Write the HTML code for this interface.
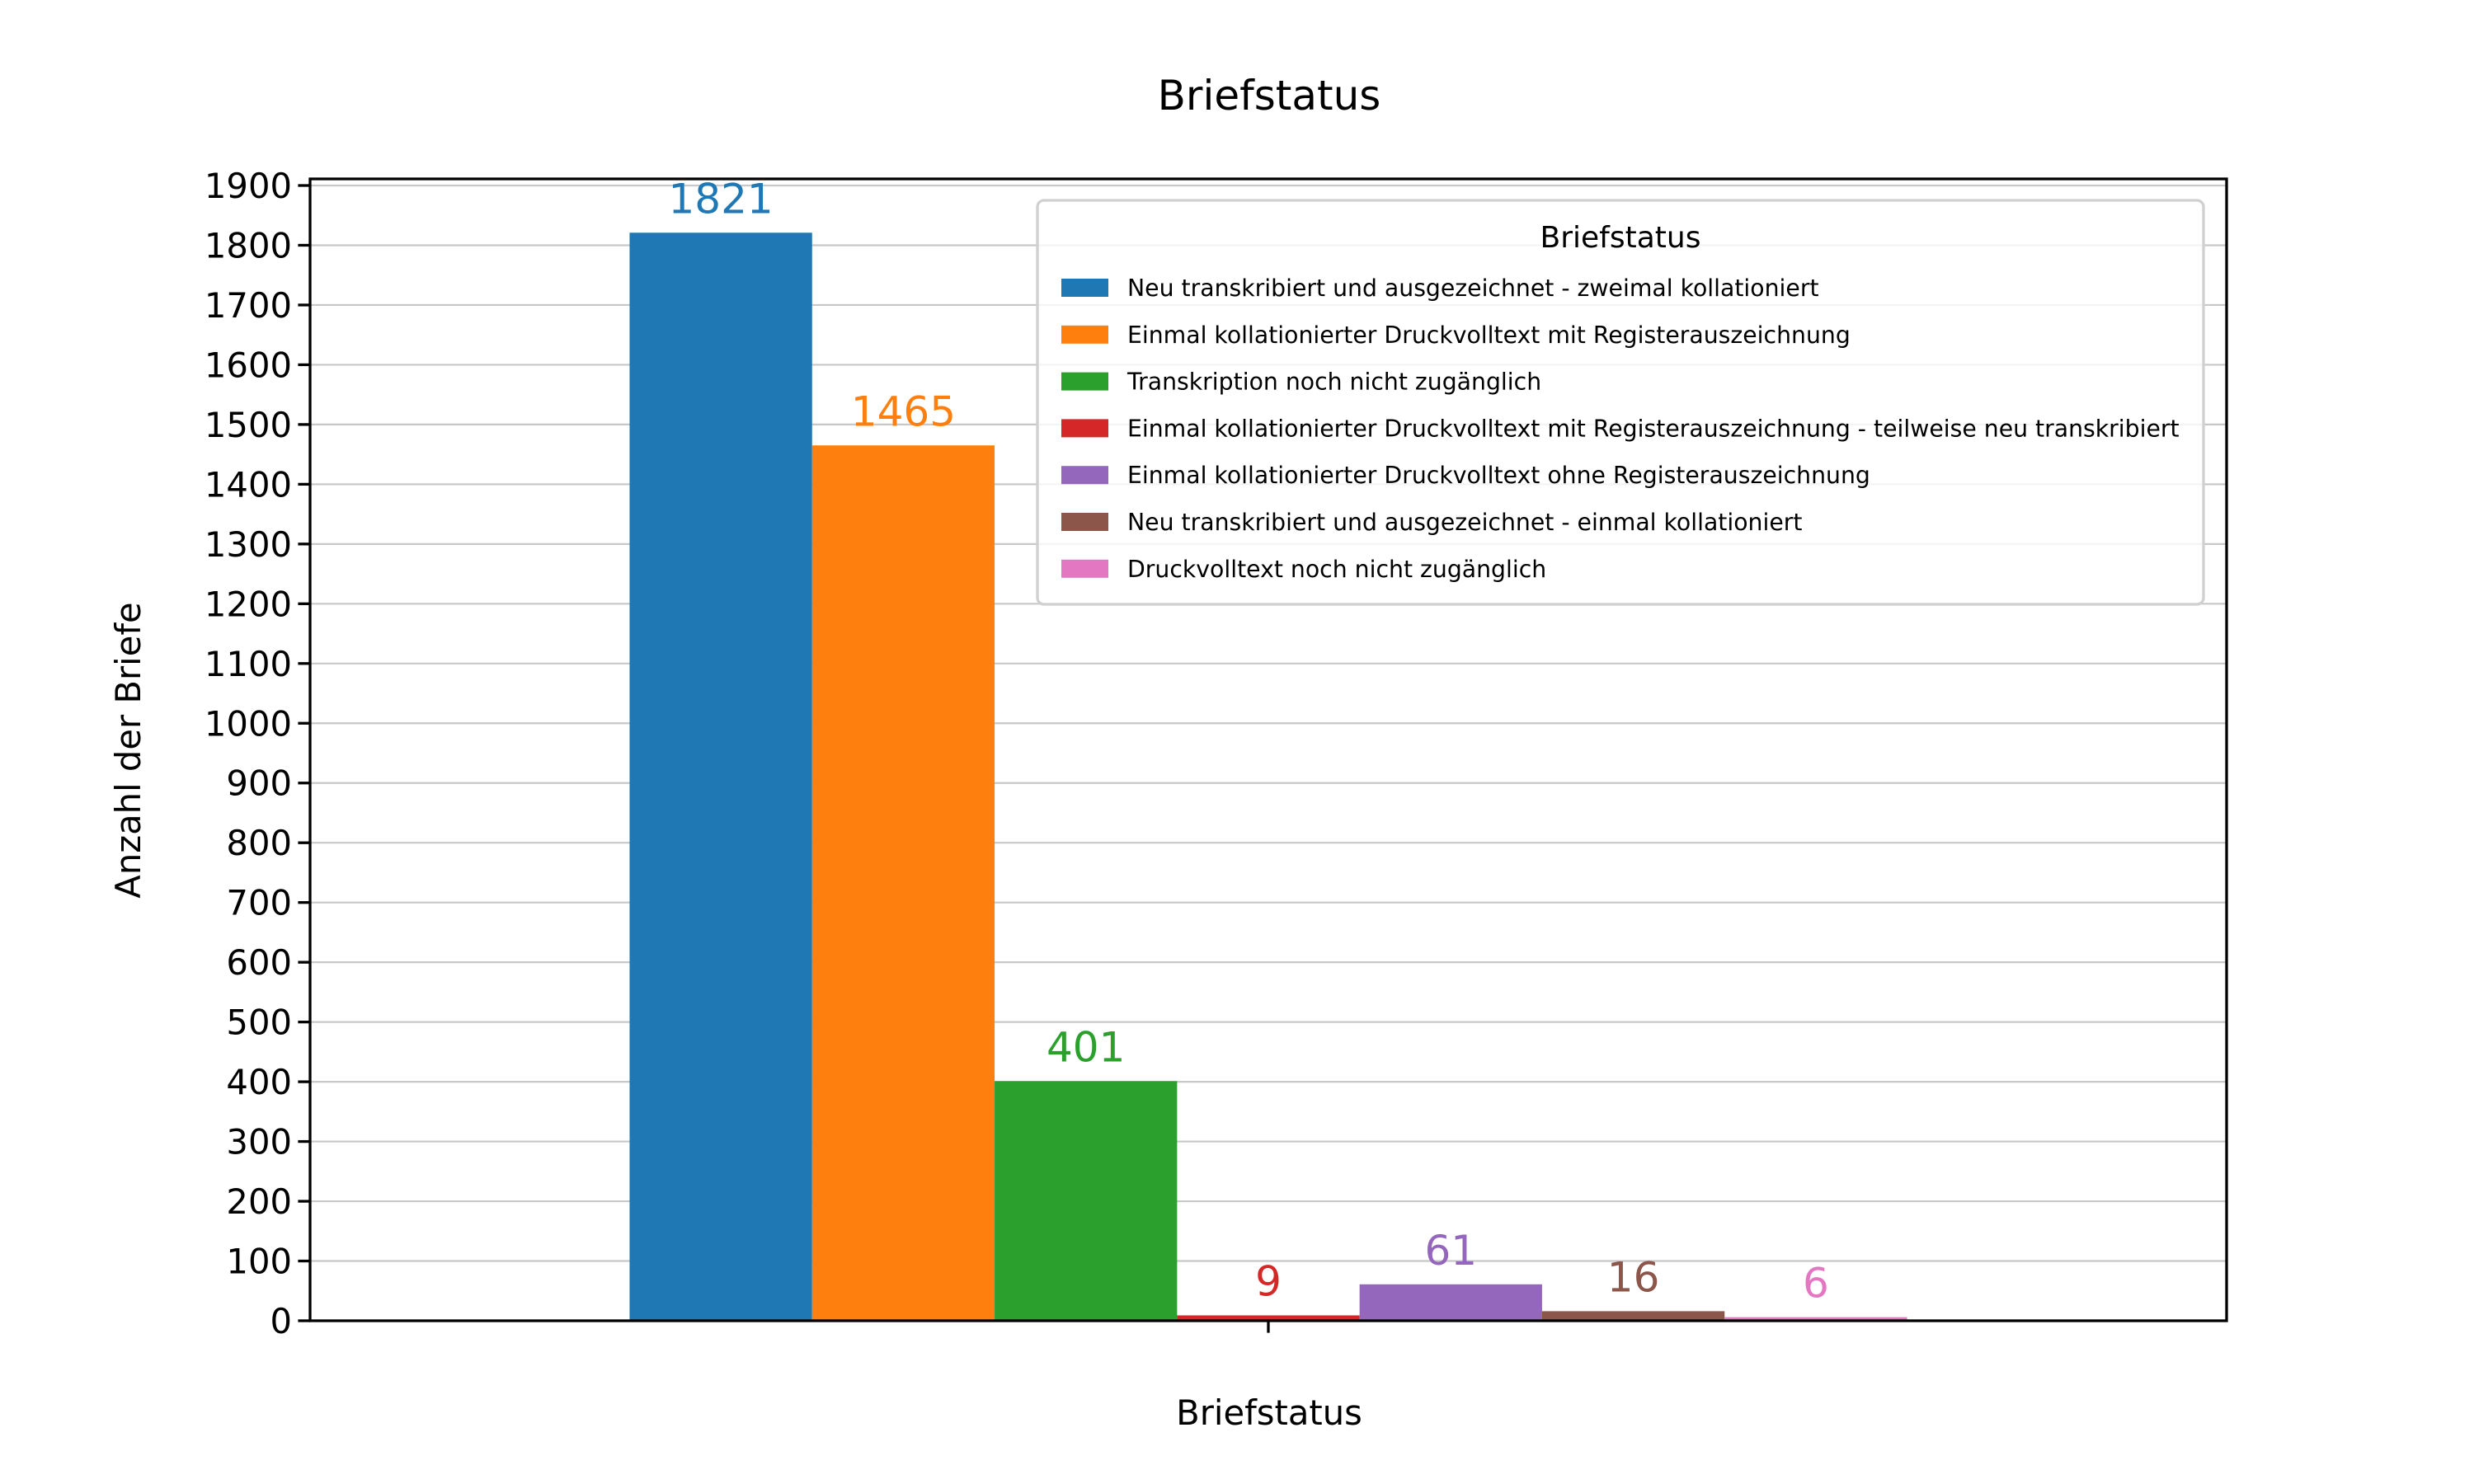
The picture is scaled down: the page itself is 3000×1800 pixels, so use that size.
<!DOCTYPE html>
<html><head><meta charset="utf-8"><style>
html,body{margin:0;padding:0;background:#fff;}
svg{display:block;font-family:"DejaVu Sans","Liberation Sans",sans-serif;}
</style></head><body>
<svg id="chart" width="3000" height="1800" viewBox="0 0 3000 1800" xmlns="http://www.w3.org/2000/svg">
<rect x="0" y="0" width="3000" height="1800" fill="#fff"/>
<text x="1539" y="133" font-size="50" text-anchor="middle" fill="#000">Briefstatus</text>
<g id="grid"></g>
<g id="bars"></g>
<g id="axes"></g>
<text x="1539" y="1728" font-size="41.7" text-anchor="middle">Briefstatus</text>
<text x="0" y="0" font-size="41.7" text-anchor="middle" transform="translate(170,910) rotate(-90)">Anzahl der Briefe</text>
<g id="legend"></g>
</svg>
<script>
const categories = ["Neu transkribiert und ausgezeichnet - zweimal kollationiert","Einmal kollationierter Druckvolltext mit Registerauszeichnung","Transkription noch nicht zugänglich","Einmal kollationierter Druckvolltext mit Registerauszeichnung - teilweise neu transkribiert","Einmal kollationierter Druckvolltext ohne Registerauszeichnung","Neu transkribiert und ausgezeichnet - einmal kollationiert","Druckvolltext noch nicht zugänglich"];
const values = [1821,1465,401,9,61,16,6];
const colors = ["#1f77b4","#ff7f0e","#2ca02c","#d62728","#9467bd","#8c564b","#e377c2"];
const yTicks = [0,100,200,300,400,500,600,700,800,900,1000,1100,1200,1300,1400,1500,1600,1700,1800,1900];

const NS="http://www.w3.org/2000/svg";
const L=376,R=2700,T=217,B=1602;
const y0=1602, y1900=225;
function yScale(v){return y0-(y0-y1900)*v/1900;}
const cx=1538, bw=221.3;
function xBar(i){return cx+(i-values.length/2)*bw;}
function mk(tag,attrs,parent){const e=document.createElementNS(NS,tag);for(const k in attrs)e.setAttribute(k,attrs[k]);parent.appendChild(e);return e;}

const grid=document.getElementById('grid');
const axes=document.getElementById('axes');
yTicks.forEach(t=>{
  const y=yScale(t);
  const g=mk('line',{x1:L,x2:R,y1:y,y2:y,stroke:'#c8c8c8','stroke-width':2.2},grid);
  
  
  const tk=mk('line',{x1:L-14.6,x2:L,y1:y,y2:y,stroke:'#000','stroke-width':3.3},axes);
  
  
  const tl=mk('text',{x:L-22,y:y+15,'font-size':41.7,'text-anchor':'end'},axes);
  tl.textContent=t;
  
  
});
const bars=document.getElementById('bars');
values.forEach((v,i)=>{
  const x=xBar(i), y=yScale(v);
  const r=mk('rect',{x:x,y:y,width:bw,height:y0-y,fill:colors[i]},bars);
  
  
  const lab=mk('text',{x:x+bw/2,y:y-24,'font-size':50,'text-anchor':'middle',fill:colors[i]},bars);
  lab.textContent=v;
  
  
});
const frame=mk('rect',{x:L,y:T,width:R-L,height:B-T,fill:'none',stroke:'#000','stroke-width':3.3},axes);


const xt=mk('line',{x1:cx,x2:cx,y1:B,y2:B+14.6,stroke:'#000','stroke-width':3.3},axes);



const leg=document.getElementById('legend');
const box=mk('rect',{x:1258,y:243,width:1414,height:490,rx:8,fill:'rgba(255,255,255,0.8)',stroke:'#d0d0d0','stroke-width':3.3},leg);


const lt=mk('text',{x:1965,y:300,'font-size':36,'text-anchor':'middle'},leg);
lt.textContent='Briefstatus';


categories.forEach((c,i)=>{
  const yc=349+i*56.8;
  const sw=mk('rect',{x:1287,y:yc-11,width:57,height:22,fill:colors[i]},leg);
  
  
  const tx=mk('text',{x:1367,y:yc+10,'font-size':28.3},leg);
  tx.textContent=c;
  
  
});
</script>
</body></html>
